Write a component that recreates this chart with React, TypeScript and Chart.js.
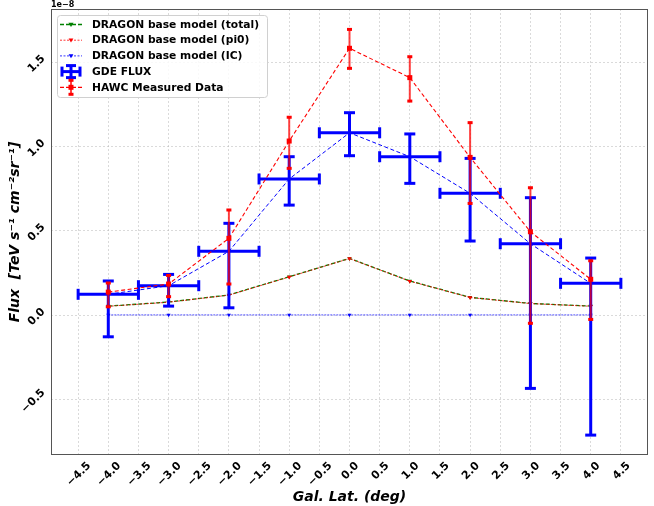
import { useEffect, useRef } from "react";
import { Chart, registerables } from "chart.js";

Chart.register(...registerables);

// Galactic latitude bins (deg) and their half width
const latitudes = [-4, -3, -2, -1, 0, 1, 2, 3, 4];
const latHalfWidth = 0.5;

// flux values in units of 1e-8 TeV s^-1 cm^-2 sr^-1
const hawcFlux = [0.136, 0.184, 0.455, 1.032, 1.582, 1.408, 0.935, 0.494, 0.212];
const hawcUpper = [0.19, 0.235, 0.623, 1.173, 1.694, 1.532, 1.141, 0.755, 0.322];
const hawcLower = [0.049, 0.109, 0.184, 0.87, 1.463, 1.269, 0.662, -0.049, -0.026];

const gdeFlux = [0.123, 0.174, 0.378, 0.807, 1.081, 0.939, 0.722, 0.423, 0.188];
const gdeUpper = [0.202, 0.241, 0.544, 0.939, 1.2, 1.074, 0.929, 0.696, 0.338];
const gdeLower = [-0.129, 0.053, 0.043, 0.652, 0.945, 0.781, 0.439, -0.435, -0.712];

const dragonTotal = [0.053, 0.077, 0.119, 0.227, 0.336, 0.202, 0.105, 0.069, 0.053];
const dragonPi0 = [0.052, 0.076, 0.118, 0.226, 0.335, 0.201, 0.104, 0.068, 0.052];
const dragonIC = [0.001, 0.001, 0.001, 0.001, 0.001, 0.001, 0.001, 0.001, 0.001];

const legendLabels = [
  "DRAGON base model (total)",
  "DRAGON base model (pi0)",
  "DRAGON base model (IC)",
  "GDE FLUX",
  "HAWC Measured Data",
];

const FONT = "'DejaVu Sans', sans-serif";
const BLUE = "#0000ff";
const RED = "#ff0000";
const GREEN = "#008000";

const points = (ys: number[]) => latitudes.map((x, i) => ({ x, y: ys[i] }));

const fmtTick = (v: number | string) => {
  const n = Number(v);
  const s = Math.abs(n) < 1e-9 ? "0.0" : n.toFixed(1);
  return s.replace("-", "\u2212");
};

const line = (ctx: CanvasRenderingContext2D, x1: number, y1: number, x2: number, y2: number) => {
  ctx.beginPath();
  ctx.moveTo(x1, y1);
  ctx.lineTo(x2, y2);
  ctx.stroke();
};

const triangle = (ctx: CanvasRenderingContext2D, x: number, y: number, r: number, color: string) => {
  ctx.fillStyle = color;
  ctx.beginPath();
  ctx.moveTo(x - r, y - r * 0.7);
  ctx.lineTo(x + r, y - r * 0.7);
  ctx.lineTo(x, y + r);
  ctx.closePath();
  ctx.fill();
};

// rotated (45°) tick labels centred on their tick, like matplotlib
const drawTickLabels = (ctx: CanvasRenderingContext2D, scale: any, horizontal: boolean, area: any) => {
  const size = 11;
  ctx.save();
  ctx.font = `bold ${size}px ${FONT}`;
  ctx.fillStyle = "#000";
  ctx.textAlign = "center";
  ctx.textBaseline = "alphabetic";
  scale.ticks.forEach((t: any) => {
    const text = fmtTick(t.value);
    const w = ctx.measureText(text).width;
    const half = ((w + size * 0.73) * Math.SQRT1_2) / 2;
    const p = scale.getPixelForValue(t.value);
    const cx = horizontal ? p : area.left - 5.5 - half;
    const cy = horizontal ? area.bottom + 5.5 + half : p + 1;
    ctx.save();
    ctx.translate(cx, cy);
    ctx.rotate(-Math.PI / 4);
    ctx.fillText(text, 0, size * 0.365);
    ctx.restore();
  });
  ctx.restore();
};

const errorBarsPlugin = {
  id: "errorBars",
  afterDatasetDraw(chart: any, args: any) {
    const { ctx, scales } = chart;
    const xs = scales.x;
    const ys = scales.y;
    const label = chart.data.datasets[args.index].label;
    ctx.save();
    ctx.setLineDash([]);
    if (label === "GDE FLUX") {
      ctx.strokeStyle = BLUE;
      ctx.lineWidth = 3;
      latitudes.forEach((lat, i) => {
        const px = xs.getPixelForValue(lat);
        const pl = xs.getPixelForValue(lat - latHalfWidth);
        const pr = xs.getPixelForValue(lat + latHalfWidth);
        const py = ys.getPixelForValue(gdeFlux[i]);
        const pt = ys.getPixelForValue(gdeUpper[i]);
        const pb = ys.getPixelForValue(gdeLower[i]);
        line(ctx, px, pt, px, pb);
        line(ctx, pl, py, pr, py);
        line(ctx, px - 5.5, pt, px + 5.5, pt);
        line(ctx, px - 5.5, pb, px + 5.5, pb);
        line(ctx, pl, py - 5.5, pl, py + 5.5);
        line(ctx, pr, py - 5.5, pr, py + 5.5);
      });
    }
    if (label === "HAWC Measured Data") {
      ctx.strokeStyle = "rgba(255,0,0,0.75)";
      ctx.lineWidth = 2;
      latitudes.forEach((lat, i) => {
        const px = xs.getPixelForValue(lat);
        const pt = ys.getPixelForValue(hawcUpper[i]);
        const pb = ys.getPixelForValue(hawcLower[i]);
        line(ctx, px, pt, px, pb);
        ctx.fillStyle = RED;
        ctx.fillRect(px - 2.5, pt - 1.5, 5, 3);
        ctx.fillRect(px - 2.5, pb - 1.5, 5, 3);
        const py = ys.getPixelForValue(hawcFlux[i]);
        ctx.fillRect(px - 2.5, py - 2.5, 5, 5);
      });
    }
    ctx.restore();
  },
  afterDraw(chart: any) {
    const { ctx, chartArea, scales } = chart;
    const { left, top, right, bottom } = chartArea;
    ctx.save();
    // frame
    ctx.setLineDash([]);
    ctx.strokeStyle = "#555555";
    ctx.lineWidth = 1;
    ctx.strokeRect(left + 0.5, top + 0.5, right - left - 1, bottom - top - 1);

    drawTickLabels(ctx, scales.x, true, chartArea);
    drawTickLabels(ctx, scales.y, false, chartArea);

    // offset text
    ctx.fillStyle = "#000";
    ctx.font = `bold 8px ${FONT}`;
    ctx.textAlign = "left";
    ctx.textBaseline = "bottom";
    ctx.fillText("1e\u22128", left, top - 0.5);

    // legend
    const bx = left + 6;
    const by = top + 6;
    const bw = 210;
    const bh = 82;
    ctx.fillStyle = "rgba(255,255,255,0.85)";
    ctx.strokeStyle = "#d0d0d0";
    ctx.lineWidth = 1;
    ctx.beginPath();
    ctx.roundRect(bx + 0.5, by + 0.5, bw, bh, 3);
    ctx.fill();
    ctx.stroke();

    const hx1 = bx + 3;
    const hx2 = bx + 25;
    const hc = (hx1 + hx2) / 2;
    ctx.font = `bold 10.7px ${FONT}`;
    ctx.textBaseline = "middle";
    legendLabels.forEach((text, i) => {
      const ry = by + 9.5 + i * 15.7;
      ctx.setLineDash([]);
      if (i === 0) {
        ctx.strokeStyle = GREEN;
        ctx.lineWidth = 1.3;
        ctx.setLineDash([4, 2]);
        line(ctx, hx1, ry, hx2, ry);
        triangle(ctx, hc, ry, 2.6, GREEN);
      } else if (i === 1) {
        ctx.strokeStyle = RED;
        ctx.lineWidth = 0.8;
        ctx.setLineDash([2, 1.5]);
        line(ctx, hx1, ry, hx2, ry);
        triangle(ctx, hc, ry, 2.4, RED);
      } else if (i === 2) {
        ctx.strokeStyle = BLUE;
        ctx.lineWidth = 0.8;
        ctx.setLineDash([2, 1.5]);
        line(ctx, hx1, ry, hx2, ry);
        triangle(ctx, hc, ry, 2.4, BLUE);
      } else if (i === 3) {
        ctx.strokeStyle = BLUE;
        ctx.lineWidth = 3;
        line(ctx, hc - 9, ry, hc + 9, ry);
        line(ctx, hc, ry - 6, hc, ry + 6);
        line(ctx, hc - 9, ry - 5, hc - 9, ry + 5);
        line(ctx, hc + 9, ry - 5, hc + 9, ry + 5);
        line(ctx, hc - 5, ry - 6, hc + 5, ry - 6);
        line(ctx, hc - 5, ry + 6, hc + 5, ry + 6);
      } else {
        ctx.strokeStyle = RED;
        ctx.lineWidth = 1.2;
        ctx.setLineDash([4, 2]);
        line(ctx, hx1, ry, hx2, ry);
        ctx.setLineDash([]);
        ctx.strokeStyle = "rgba(255,0,0,0.75)";
        ctx.lineWidth = 2;
        line(ctx, hc, ry - 7, hc, ry + 7);
        ctx.fillStyle = RED;
        ctx.fillRect(hc - 2.5, ry - 8.5, 5, 3);
        ctx.fillRect(hc - 2.5, ry + 5.5, 5, 3);
        ctx.fillRect(hc - 2.5, ry - 2.5, 5, 5);
      }
      ctx.setLineDash([]);
      ctx.fillStyle = "#000";
      ctx.fillText(text, bx + 35, ry + 0.5);
    });
    ctx.restore();
  },
};

const FluxProfileChart = () => {
  const canvasRef = useRef<HTMLCanvasElement>(null);
  const chartRef = useRef<Chart | null>(null);

  useEffect(() => {
    if (!canvasRef.current) return;
    if (chartRef.current) chartRef.current.destroy();

    const titleFont = { family: FONT, size: 14, weight: "bold" as const, style: "italic" as const };
    const grid = {
      color: "rgba(176,176,176,0.6)",
      lineWidth: 0.8,
      drawTicks: false,
    };

    chartRef.current = new Chart(canvasRef.current, {
      type: "line",
      data: {
        datasets: [
          {
            label: "DRAGON base model (total)",
            data: points(dragonTotal),
            borderColor: GREEN,
            borderWidth: 1.3,
            borderDash: [4, 2],
            pointStyle: "triangle",
            rotation: 180,
            pointRadius: 2.5,
            pointBackgroundColor: GREEN,
            pointBorderWidth: 0,
            order: 5,
          },
          {
            label: "DRAGON base model (pi0)",
            data: points(dragonPi0),
            borderColor: RED,
            borderWidth: 0.8,
            borderDash: [2, 1.5],
            pointStyle: "triangle",
            rotation: 180,
            pointRadius: 2.5,
            pointBackgroundColor: RED,
            pointBorderWidth: 0,
            order: 4,
          },
          {
            label: "DRAGON base model (IC)",
            data: points(dragonIC),
            borderColor: "rgba(0,0,255,0.55)",
            borderWidth: 1.4,
            borderDash: [2, 1],
            pointStyle: "triangle",
            rotation: 180,
            pointRadius: 2.3,
            pointBackgroundColor: BLUE,
            pointBorderWidth: 0,
            order: 3,
          },
          {
            label: "GDE FLUX",
            data: points(gdeFlux),
            borderColor: BLUE,
            borderWidth: 1,
            borderDash: [4, 2.5],
            pointRadius: 0,
            order: 2,
          },
          {
            label: "HAWC Measured Data",
            data: points(hawcFlux),
            borderColor: RED,
            borderWidth: 1.1,
            borderDash: [4, 2.5],
            pointRadius: 0,
            order: 1,
          },
        ],
      },
      options: {
        responsive: false,
        animation: false,
        devicePixelRatio: 1,
        layout: { padding: { left: 0, right: 6, top: 9, bottom: 0 } },
        plugins: {
          legend: { display: false },
          tooltip: { enabled: false },
        },
        elements: { line: { tension: 0 } },
        scales: {
          x: {
            type: "linear",
            min: -4.95,
            max: 4.95,
            grid,
            border: { display: false, dash: [2, 2] },
            ticks: {
              display: false,
              stepSize: 0.5,
              includeBounds: false,
              autoSkip: false,
            },
            title: {
              display: true,
              text: "Gal. Lat. (deg)",
              color: "#000",
              font: titleFont,
              padding: { top: 4.6, bottom: 0 },
            },
            afterFit: (scale) => {
              scale.height = 51;
            },
          },
          y: {
            type: "linear",
            min: -0.83,
            max: 1.815,
            grid,
            border: { display: false, dash: [2, 2] },
            ticks: {
              display: false,
              stepSize: 0.5,
              includeBounds: false,
            },
            title: {
              display: true,
              text: "Flux  [TeV s\u207B\u00B9 cm\u207B\u00B2sr\u207B\u00B9]",
              color: "#000",
              font: titleFont,
              padding: { top: 6.6, bottom: 0 },
            },
            afterFit: (scale) => {
              scale.width = 51;
            },
          },
        },
      },
      plugins: [errorBarsPlugin],
    });

    return () => {
      if (chartRef.current) {
        chartRef.current.destroy();
        chartRef.current = null;
      }
    };
  }, []);

  return (
    <div style={{ position: "absolute", left: 0, top: 0, width: 654, height: 506, background: "#fff" }}>
      <canvas ref={canvasRef} width={654} height={506} />
    </div>
  );
};

export default function App() {
  return <FluxProfileChart />;
}
